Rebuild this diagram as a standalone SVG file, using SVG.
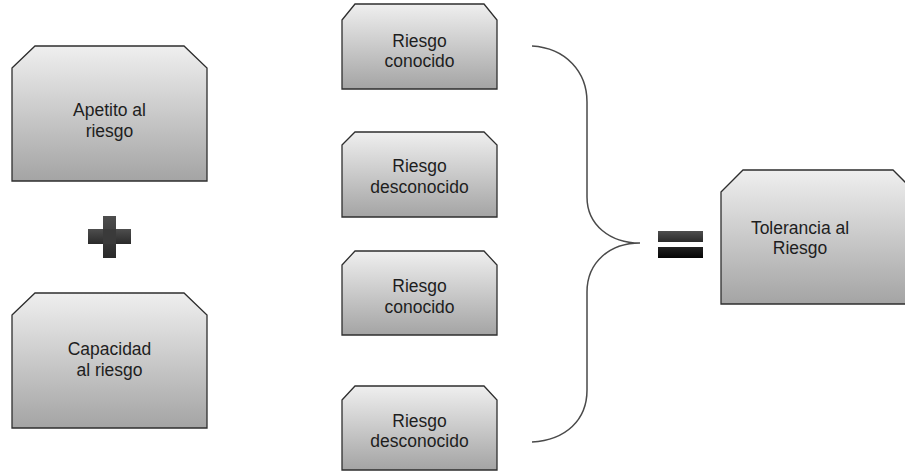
<svg xmlns="http://www.w3.org/2000/svg" width="905" height="472" viewBox="0 0 905 472">
  <defs>
    <linearGradient id="boxFill" x1="0" y1="0" x2="0" y2="1">
      <stop offset="0" stop-color="#efefef"/>
      <stop offset="1" stop-color="#a4a4a4"/>
    </linearGradient>
    <linearGradient id="darkBar" x1="0" y1="0" x2="0" y2="1">
      <stop offset="0" stop-color="#4e4e4e"/>
      <stop offset="1" stop-color="#2a2a2a"/>
    </linearGradient>
    <linearGradient id="blackBar" x1="0" y1="0" x2="0" y2="1">
      <stop offset="0" stop-color="#222222"/>
      <stop offset="1" stop-color="#050505"/>
    </linearGradient>
  </defs>
  <style>
    .box { fill: url(#boxFill); stroke: #2e2e2e; stroke-width: 1.3; }
    .label { font-family: "Liberation Sans", Arial, sans-serif; font-size: 17.5px; fill: #1e1e1e; text-anchor: middle; }
    .brace { fill: none; stroke: #4a4a4a; stroke-width: 1.5; }
  </style>

  <rect width="905" height="472" fill="#ffffff"/>

  <!-- left column -->
  <g id="apetito">
    <path class="box" d="M12,68 L35,46 L184,46 L207,68 L207,181 L12,181 Z"/>
    <text class="label" x="109.5" y="116">Apetito al</text>
    <text class="label" x="109.5" y="137">riesgo</text>
  </g>

  <g id="plus">
    <rect x="103" y="216" width="13" height="42" fill="url(#darkBar)"/>
    <rect x="88" y="229" width="43" height="15" fill="url(#darkBar)"/>
    <rect x="103" y="229" width="13" height="15" fill="#3a3a3a"/>
  </g>

  <g id="capacidad">
    <path class="box" d="M12,315 L35,293 L184,293 L207,315 L207,428 L12,428 Z"/>
    <text class="label" x="109.5" y="355">Capacidad</text>
    <text class="label" x="109.5" y="376">al riesgo</text>
  </g>

  <!-- middle column -->
  <g id="riesgo1">
    <path class="box" d="M342,20 L355,4 L484,4 L497,20 L497,89 L342,89 Z"/>
    <text class="label" x="419.5" y="47">Riesgo</text>
    <text class="label" x="419.5" y="67">conocido</text>
  </g>

  <g id="riesgo2">
    <path class="box" d="M342,145 L355,132 L484,132 L497,145 L497,217 L342,217 Z"/>
    <text class="label" x="419.5" y="172">Riesgo</text>
    <text class="label" x="419.5" y="193">desconocido</text>
  </g>

  <g id="riesgo3">
    <path class="box" d="M342,265 L355,251 L484,251 L497,265 L497,335 L342,335 Z"/>
    <text class="label" x="419.5" y="292">Riesgo</text>
    <text class="label" x="419.5" y="313">conocido</text>
  </g>

  <g id="riesgo4">
    <path class="box" d="M342,400 L355,386 L484,386 L497,400 L497,470 L342,470 Z"/>
    <text class="label" x="419.5" y="427">Riesgo</text>
    <text class="label" x="419.5" y="447">desconocido</text>
  </g>

  <!-- grouping brace -->
  <g id="connectors">
    <path class="brace" d="M532,46 C566,48 587,72 587,102 L587,197 C587,225 610,243 640,243 C610,243 587,262 587,292 L587,390 C587,420 566,440 532,442"/>
  </g>

  <g id="equals">
    <rect x="658" y="231" width="45" height="11" fill="url(#darkBar)"/>
    <rect x="658" y="247" width="45" height="11" fill="url(#blackBar)"/>
  </g>

  <!-- result -->
  <g id="tolerancia">
    <path class="box" d="M721,192 L743,170 L893,170 L915,192 L915,304 L721,304 Z"/>
    <text class="label" x="800" y="234">Tolerancia al</text>
    <text class="label" x="800" y="254">Riesgo</text>
  </g>
</svg>
